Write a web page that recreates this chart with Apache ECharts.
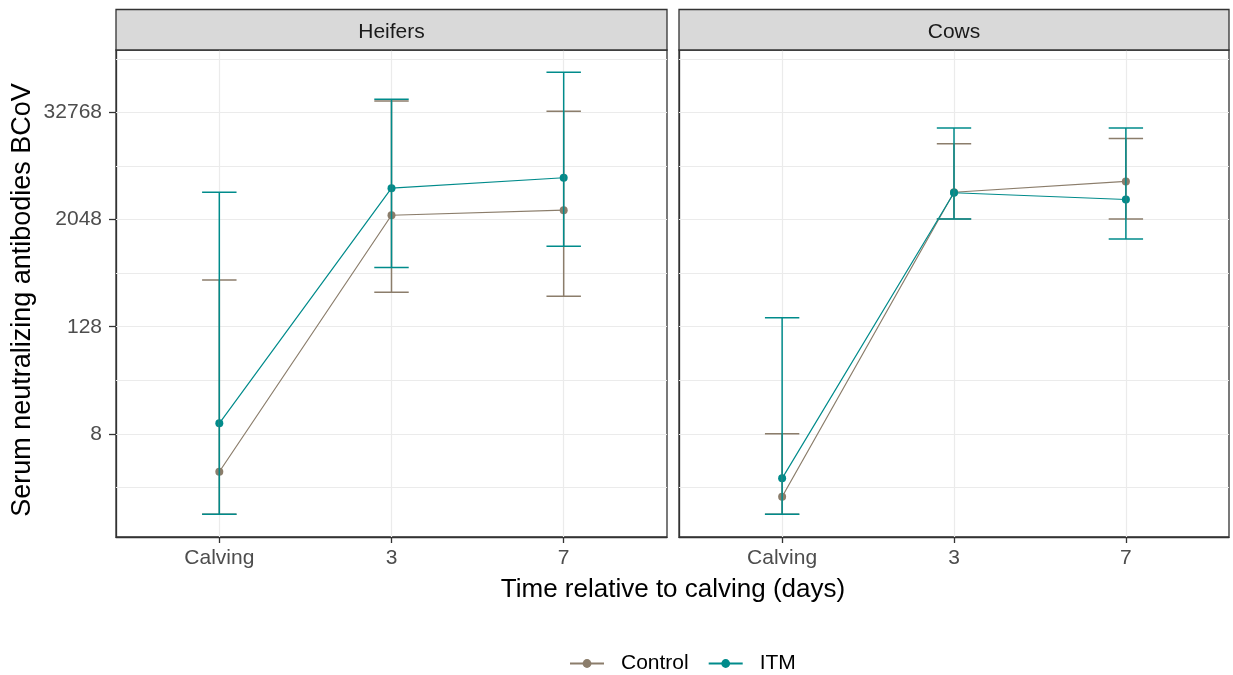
<!DOCTYPE html>
<html>
<head>
<meta charset="utf-8">
<script src="https://cdn.jsdelivr.net/npm/echarts@6/dist/echarts.min.js"></script>
<style>
html,body{margin:0;padding:0;background:#fff;}
#chart{width:1233px;height:675px;}
</style>
</head>
<body>
<div id="chart"></div>
<script>
// ---------- data ----------
const categories = ['Calving', '3', '7'];
const panels = ['Heifers', 'Cows'];
const groups = ['Control', 'ITM'];

// Heifers
const heifersControl      = [3.0, 2290, 2610];
const heifersControlLower = [1, 312, 282];
const heifersControlUpper = [430, 44000, 33700];
const heifersITM          = [10.5, 4620, 6040];
const heifersITMLower     = [1, 592, 1030];
const heifersITMUpper     = [4150, 46000, 92700];

// Cows
const cowsControl      = [1.57, 4150, 5490];
const cowsControlLower = [1, 2080, 2080];
const cowsControlUpper = [8, 14600, 16700];
const cowsITM          = [2.53, 4100, 3440];
const cowsITMLower     = [1, 2080, 1240];
const cowsITMUpper     = [161, 21900, 21900];

// y axis (log2 scale) tick labels and grid lines
const yTickLabels = [8, 128, 2048, 32768];
const yGridValues = [2, 8, 32, 128, 512, 2048, 8192, 32768, 131072];

// ---------- styling / layout ----------
const colors = {Control: '#8B7D6B', ITM: '#008B8B'};
const FONT = "'Liberation Sans', Arial, sans-serif";
const yMinLog = -0.85, yMaxLog = 17.33;
const gridsPos = [
  {left: 116, top: 50, width: 551, height: 487},
  {left: 679, top: 50, width: 550, height: 487}
];

const panelData = [
  {Control: [heifersControl, heifersControlLower, heifersControlUpper],
   ITM: [heifersITM, heifersITMLower, heifersITMUpper]},
  {Control: [cowsControl, cowsControlLower, cowsControlUpper],
   ITM: [cowsITM, cowsITMLower, cowsITMUpper]}
];

const log2 = Math.log2;

const grid = gridsPos.map(g => Object.assign({show: true, borderColor: '#333333', borderWidth: 1.3, backgroundColor: '#fff', containLabel: false}, g));

const xAxis = gridsPos.map((g, i) => ({
  type: 'value', gridIndex: i, min: -0.6, max: 2.6, position: 'bottom',
  axisLine: {show: true, onZero: false, lineStyle: {color: '#333333', width: 1.3}},
  axisTick: {show: true, customValues: [0, 1, 2], length: 6, lineStyle: {color: '#333333', width: 1.3}},
  axisLabel: {show: true, customValues: [0, 1, 2], formatter: v => categories[Math.round(v)],
    color: '#4D4D4D', fontSize: 21, fontFamily: FONT, margin: 11},
  splitLine: {show: false}
}));

const yAxis = gridsPos.map((g, i) => ({
  type: 'value', gridIndex: i, min: yMinLog, max: yMaxLog, position: 'left',
  axisLine: {show: true, onZero: false, lineStyle: {color: '#333333', width: 1.3}},
  axisTick: {show: i === 0, customValues: yTickLabels.map(log2), length: 7, lineStyle: {color: '#333333', width: 1.3}},
  axisLabel: {show: i === 0, customValues: yTickLabels.map(log2),
    formatter: v => String(Math.round(Math.pow(2, v))),
    color: '#4D4D4D', fontSize: 21, fontFamily: FONT, margin: 14},
  splitLine: {show: false}
}));

const series = [];

// grid lines
gridsPos.forEach((g, i) => {
  series.push({
    type: 'line', xAxisIndex: i, yAxisIndex: i, data: [], silent: true, z: 1,
    markLine: {
      silent: true, symbol: ['none', 'none'], animation: false, z: 1,
      label: {show: false},
      lineStyle: {color: '#EBEBEB', type: 'solid', width: 1.2},
      emphasis: {disabled: true},
      data: yGridValues.map(v => ({yAxis: log2(v)})).concat([0, 1, 2].map(x => ({xAxis: x})))
    }
  });
});

// lines + points
panelData.forEach((pd, i) => {
  groups.forEach(gname => {
    series.push({
      name: gname, type: 'line', xAxisIndex: i, yAxisIndex: i, z: 3,
      data: pd[gname][0].map((v, k) => [k, log2(v)]),
      symbol: 'circle', symbolSize: 8, showSymbol: true,
      itemStyle: {color: colors[gname]},
      lineStyle: {color: colors[gname], width: 1.2},
      animation: false, silent: true
    });
  });
});

// error bars
panelData.forEach((pd, i) => {
  groups.forEach(gname => {
    const lo = pd[gname][1], hi = pd[gname][2];
    series.push({
      name: gname, type: 'custom', xAxisIndex: i, yAxisIndex: i, z: 4,
      data: lo.map((v, k) => [k, log2(v), log2(hi[k])]),
      encode: {x: 0, y: [1, 2]},
      animation: false, silent: true,
      renderItem: (params, api) => {
        const x = api.value(0);
        const pLo = api.coord([x, api.value(1)]);
        const pHi = api.coord([x, api.value(2)]);
        const half = api.size([0.1, 0])[0];
        const st = {stroke: colors[gname], lineWidth: 1.5, fill: null};
        return {type: 'group', children: [
          {type: 'line', shape: {x1: pLo[0], y1: pLo[1], x2: pHi[0], y2: pHi[1]}, style: st},
          {type: 'line', shape: {x1: pLo[0] - half, y1: pLo[1], x2: pLo[0] + half, y2: pLo[1]}, style: st},
          {type: 'line', shape: {x1: pHi[0] - half, y1: pHi[1], x2: pHi[0] + half, y2: pHi[1]}, style: st}
        ]};
      }
    });
  });
});

const graphic = [];
gridsPos.forEach((g, i) => {
  graphic.push({
    type: 'rect', z: 10,
    shape: {x: g.left, y: 9.5, width: g.width, height: 40.5},
    style: {fill: '#D9D9D9', stroke: '#333333', lineWidth: 1.3}
  });
  graphic.push({
    type: 'text', z: 11, x: g.left + g.width / 2, y: 32,
    style: {text: panels[i], fill: '#1A1A1A', font: '21px ' + FONT,
      align: 'center', verticalAlign: 'middle', textAlign: 'center', textVerticalAlign: 'middle'}
  });
});
graphic.push({
  type: 'text', z: 11, x: 673, y: 590,
  style: {text: 'Time relative to calving (days)', fill: '#000', font: '26px ' + FONT,
    align: 'center', verticalAlign: 'middle', textAlign: 'center', textVerticalAlign: 'middle'}
});
graphic.push({
  type: 'text', z: 11, x: 23, y: 300, rotation: Math.PI / 2,
  style: {text: 'Serum neutralizing antibodies BCoV', fill: '#000', font: '27px ' + FONT,
    align: 'center', verticalAlign: 'middle', textAlign: 'center', textVerticalAlign: 'middle'}
});

const option = {
  backgroundColor: '#fff',
  animation: false,
  grid, xAxis, yAxis, series, graphic,
  legend: {
    data: groups, left: 569, top: 653, padding: 0, itemWidth: 34, itemHeight: 11, itemGap: 19,
    textStyle: {fontSize: 21, fontFamily: FONT, color: '#000', padding: [0, 0, 0, 12]},
    selectedMode: false
  }
};

const chart = echarts.init(document.getElementById('chart'), null, {renderer: 'canvas'});
chart.setOption(option);
</script>
</body>
</html>
